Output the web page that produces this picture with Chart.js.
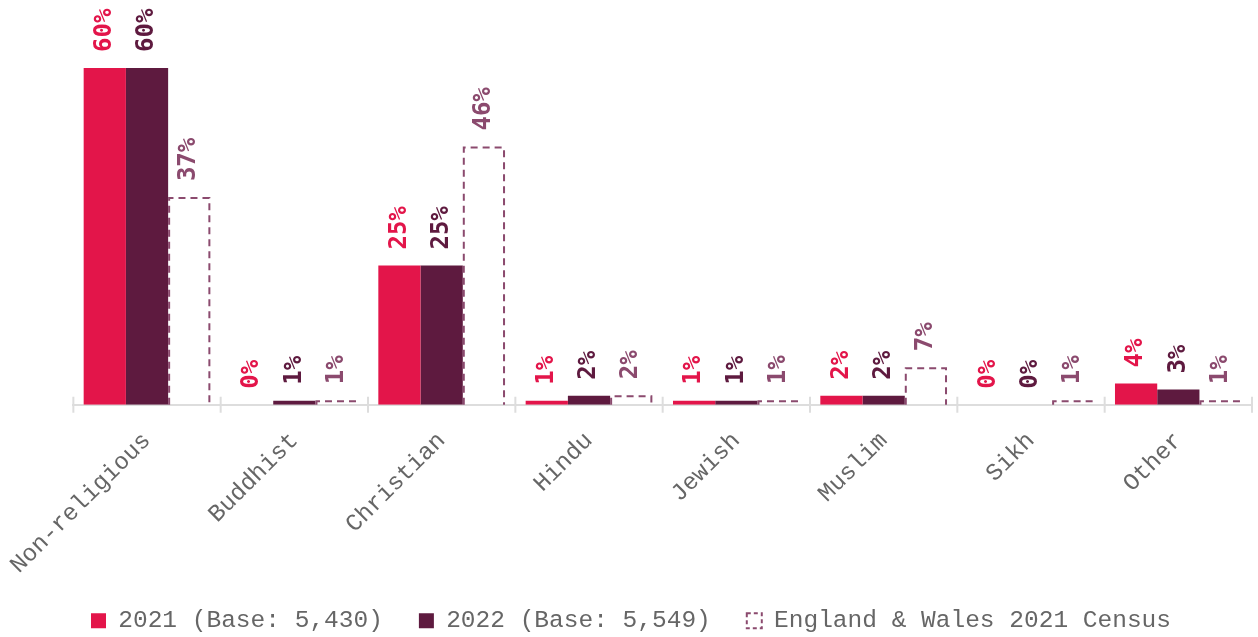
<!DOCTYPE html>
<html>
<head>
<meta charset="utf-8">
<script src="https://cdn.jsdelivr.net/npm/chart.js@4/dist/chart.umd.min.js"></script>
<style>
  html, body { margin:0; padding:0; background:#fff; }
  #wrap { width:1258px; height:637px; }
</style>
</head>
<body>
<div id="wrap"><canvas id="chart"></canvas></div>
<script>
/* ---------- Data ---------- */
const categories = ['Non-religious','Buddhist','Christian','Hindu','Jewish','Muslim','Sikh','Other'];
const values2021 = [60, 0, 24.8, 0.7, 0.7, 1.6, 0, 3.8];
const values2022 = [60, 0.7, 24.8, 1.6, 0.7, 1.6, 0, 2.7];
const valuesCensus = [37, 0.8, 46, 1.7, 0.8, 6.7, 0.8, 0.8];
const seriesLabels = ['2021 (Base: 5,430)', '2022 (Base: 5,549)', 'England & Wales 2021 Census'];

const RED = '#e3154a', PLUM = '#5e1a3f', CENSUS = '#8b4a6e';
const MONO = '"DejaVu Sans Mono", monospace';
const LIGHT_MONO = '"Liberation Mono", "DejaVu Sans Mono", monospace';

/* ---------- Plugins ---------- */
// dashed outline for the census bars (bar elements ignore borderDash)
const dashedBars = {
  id:'dashedBars',
  afterDatasetsDraw(chart){
    const ctx = chart.ctx;
    chart.data.datasets.forEach((ds, di) => {
      if(!ds.dashed) return;
      chart.getDatasetMeta(di).data.forEach(bar => {
        const half = bar.width / 2;
        const l = bar.x - half + 1, r = bar.x + half - 1;
        ctx.save();
        ctx.strokeStyle = ds.dashColor;
        ctx.lineWidth = 2;
        ctx.setLineDash([7, 5]);
        ctx.beginPath();
        ctx.moveTo(l, bar.base);
        ctx.lineTo(l, bar.y + 1);
        ctx.lineTo(r, bar.y + 1);
        ctx.lineTo(r, bar.base);
        ctx.stroke();
        ctx.restore();
      });
    });
  }
};

// value labels, rotated, above each bar
const valueLabels = {
  id:'valueLabels',
  afterDatasetsDraw(chart){
    const ctx = chart.ctx;
    chart.data.datasets.forEach((ds, di) => {
      chart.getDatasetMeta(di).data.forEach((bar, i) => {
        ctx.save();
        ctx.translate(bar.x, bar.y - 16);
        ctx.rotate(-Math.PI/2);
        ctx.font = 'bold 24px ' + MONO;
        ctx.fillStyle = ds.labelColor;
        ctx.textAlign = 'left';
        ctx.textBaseline = 'middle';
        ctx.fillText(Math.round(ds.data[i]) + '%', 0, 0);
        ctx.restore();
      });
    });
  }
};

// short tick marks crossing the x axis at category boundaries
const axisTicks = {
  id:'axisTicks',
  afterDraw(chart){
    const x = chart.scales.x, ctx = chart.ctx;
    const y0 = x.top;
    ctx.save();
    ctx.strokeStyle = '#dddddd';
    ctx.lineWidth = 2;
    for(let i = 0; i <= categories.length; i++){
      const px = x.getPixelForValue(i - 0.5);
      ctx.beginPath();
      ctx.moveTo(px, y0 - 8);
      ctx.lineTo(px, y0 + 8);
      ctx.stroke();
    }
    ctx.restore();
  }
};

/* ---------- Chart ---------- */
new Chart(document.getElementById('chart'), {
  type:'bar',
  data:{
    labels:categories,
    datasets:[
      { label:seriesLabels[0], data:values2021, backgroundColor:RED, borderWidth:0, labelColor:RED },
      { label:seriesLabels[1], data:values2022, backgroundColor:PLUM, borderWidth:0, labelColor:PLUM },
      { label:seriesLabels[2], data:valuesCensus, backgroundColor:'rgba(255,255,255,0)',
        borderWidth:0, dashed:true, dashColor:CENSUS, labelColor:CENSUS }
    ]
  },
  options:{
    responsive:true,
    maintainAspectRatio:false,
    animation:false,
    layout:{ padding:{ top:68, right:6, left:10, bottom:-6 } },
    datasets:{ bar:{ categoryPercentage:0.86, barPercentage:1 } },
    plugins:{
      tooltip:{ enabled:false },
      legend:{
        position:'bottom',
        labels:{
          color:'#666',
          font:{ family:LIGHT_MONO, size:24.5 },
          boxWidth:15, boxHeight:15,
          padding:36,
          generateLabels(chart){
            const items = Chart.defaults.plugins.legend.labels.generateLabels(chart);
            items[2].strokeStyle = CENSUS;
            items[2].lineWidth = 2;
            items[2].lineDash = [4, 3];
            return items;
          }
        }
      }
    },
    scales:{
      y:{ display:false, min:0, max:60 },
      x:{
        grid:{ display:false },
        border:{ display:true, color:'#dddddd', width:2 },
        ticks:{ color:'#666', font:{ family:LIGHT_MONO, size:24 }, maxRotation:45, minRotation:45, padding:14 },
        afterFit(scale){ scale.height -= 21; }
      }
    }
  },
  plugins:[dashedBars, valueLabels, axisTicks]
});
</script>
</body>
</html>
